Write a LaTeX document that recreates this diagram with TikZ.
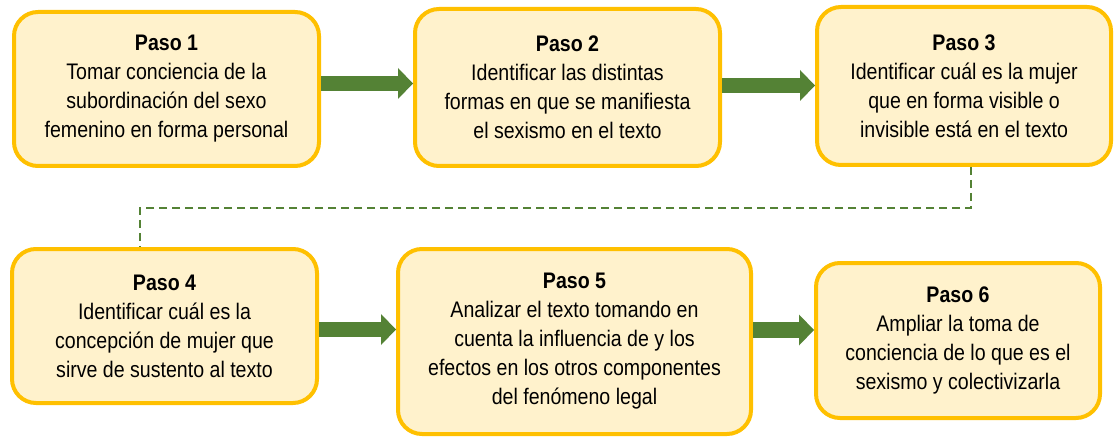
\documentclass[tikz,border=0pt]{standalone}
\usepackage{fontspec}
\setmainfont{Liberation Sans}[FakeStretch=0.87]
\usetikzlibrary{arrows.meta}
\definecolor{boxfill}{HTML}{FFF2CC}
\definecolor{boxline}{HTML}{FFC000}
\definecolor{arrgreen}{HTML}{548235}
\begin{document}
\begin{tikzpicture}[x=1pt,y=-1pt,
  stepbox/.style={draw=boxline, line width=4pt, fill=boxfill, rounded corners=24pt,
    align=center, font=\fontsize{22.5}{29}\selectfont, inner sep=0pt, text=black},
  arr/.style={draw=arrgreen, line width=15.5pt,
    -{Triangle[length=15pt,width=31pt,line width=0pt]}},
  dashline/.style={draw=arrgreen, line width=2pt, dash pattern=on 8pt off 5pt}]
\useasboundingbox (0,0) rectangle (1115,438);
\node[stepbox, minimum width=305pt, minimum height=154pt] (b1) at (166.5,89)
  {\textbf{Paso 1}\\Tomar conciencia de la\\subordinación del sexo\\femenino en forma personal};
\node[stepbox, minimum width=305pt, minimum height=157pt] (b2) at (567.5,87.5)
  {\textbf{Paso 2}\\Identificar las distintas\\formas en que se manifiesta\\el sexismo en el texto};
\node[stepbox, minimum width=294pt, minimum height=158pt] (b3) at (964,86)
  {\textbf{Paso 3}\\Identificar cuál es la mujer\\que en forma visible o\\invisible está en el texto};
\node[stepbox, minimum width=305pt, minimum height=154pt] (b4) at (164.5,326)
  {\textbf{Paso 4}\\Identificar cuál es la\\concepción de mujer que\\sirve de sustento al texto};
\node[stepbox, minimum width=353pt, minimum height=185pt] (b5) at (574.5,341.5)
  {\textbf{Paso 5}\\Analizar el texto tomando en\\cuenta la influencia de y los\\efectos en los otros componentes\\del fenómeno legal};
\node[stepbox, minimum width=284pt, minimum height=155pt] (b6) at (958,340.5)
  {\textbf{Paso 6}\\Ampliar la toma de\\conciencia de lo que es el\\sexismo y colectivizarla};
\draw[arr] (b1.east |- 0,83.5) -- (b2.west |- 0,83.5);
\draw[arr] (b2.east |- 0,85.5) -- (b3.west |- 0,85.5);
\draw[arr] (b4.east |- 0,329.5) -- (b5.west |- 0,329.5);
\draw[arr] (b5.east |- 0,330) -- (b6.west |- 0,330);
\coordinate (d1) at (971,208);
\coordinate (d2) at (140,208);
\draw[dashline] (b3.south -| d1) -- (d1) -- (d2) -- (d2 |- b4.north);
\end{tikzpicture}
\end{document}
